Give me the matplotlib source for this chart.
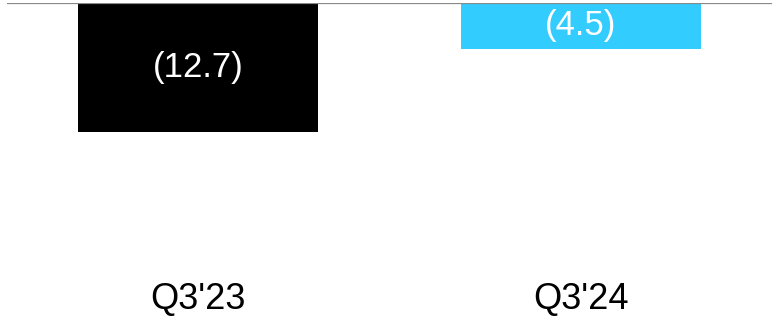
import matplotlib.pyplot as plt

# data
quarters = ["Q3'23", "Q3'24"]
values = [-12.7, -4.5]
labels = ["(12.7)", "(4.5)"]
colors = ["#000000", "#33CCFF"]

plt.rcParams['font.family'] = ['Liberation Sans', 'DejaVu Sans']

fig = plt.figure(figsize=(7.72, 3.2), dpi=100)
ax = fig.add_axes([7 / 772, 50 / 320, 765 / 772, 267 / 320])

x = list(range(len(quarters)))
bars = ax.bar(x, values, width=0.627, color=colors)
ax.bar_label(bars, labels=labels, label_type='center', color='white', fontsize=25)

# zero line at top
ax.axhline(0, color='#888888', linewidth=1.6, zorder=3)

ax.set_xlim(-0.5, 1.5)
ax.set_ylim(-26.2, 0)
ax.set_xticks(x)
ax.set_xticklabels(quarters, fontsize=26)
ax.tick_params(axis='x', length=0, pad=9)
ax.set_yticks([])
for s in ax.spines.values():
    s.set_visible(False)

fig.savefig("out.png", dpi=100)
